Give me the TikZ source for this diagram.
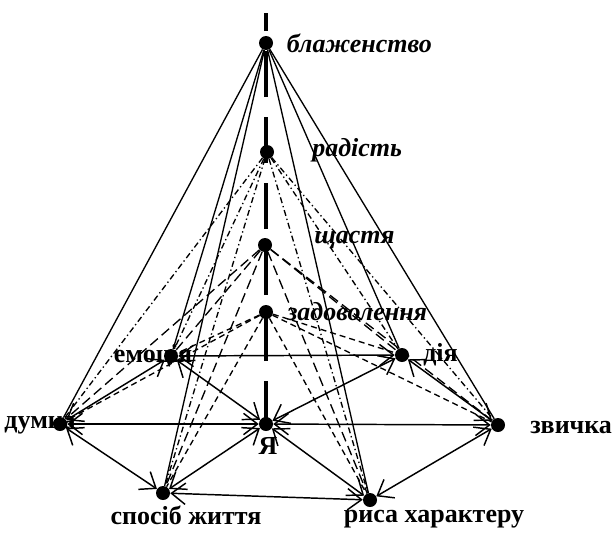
\documentclass[tikz,border=0pt]{standalone}
\usepackage{fontspec}
\setmainfont{Liberation Serif}
\usetikzlibrary{positioning,arrows.meta}

\begin{document}
\begin{tikzpicture}[
x=0.75pt, y=-0.75pt,
dotnode/.style={circle, fill=black, inner sep=0pt, minimum size=10.5pt},
itlabel/.style={inner sep=0pt, font=\fontsize{19.5}{21}\selectfont\bfseries\itshape},
uplabel/.style={inner sep=0pt, font=\fontsize{19.5}{21}\selectfont\bfseries},
axisline/.style={line width=3.4pt, dash pattern=on 34.5pt off 15pt, dash phase=2.25pt},
solidline/.style={line width=1pt},
dashdotline/.style={line width=1pt, dash pattern=on 4.5pt off 2.25pt on 1pt off 2.25pt},
longdashline/.style={line width=1pt, dash pattern=on 7.5pt off 3.75pt},
shortdashline/.style={line width=1pt, dash pattern=on 4.5pt off 3pt},
twoway/.style={line width=1.1pt, {Straight Barb[length=10.5pt, width=16pt]}-{Straight Barb[length=10.5pt, width=16pt]}},
]
\useasboundingbox (0,0) rectangle (614,532);

% levels on the axis
\node[dotnode] (Bliss)   at (266,43)  {};
\node[dotnode] (Joy)     at (267,152) {};
\node[dotnode] (Happy)   at (265,245) {};
\node[dotnode] (Content) at (266,312) {};
\node[dotnode] (Self)    at (266,424) {};
\coordinate (Top) at (266,13);

% ring around the self
\node[dotnode] (Emotion) at (171,356) {};
\node[dotnode] (Action)  at (402,355) {};
\node[dotnode] (Thought) at (60,424)  {};
\node[dotnode] (Habit)   at (498,425) {};
\node[dotnode] (Life)    at (163,493) {};
\node[dotnode] (Trait)   at (370,500) {};

\node[itlabel, anchor=west] (BlissText)   [right=10pt of Bliss]   {блаженство};
\node[itlabel, anchor=west] (JoyText)     at (312,150) {радість};
\node[itlabel, anchor=west] (HappyText)   at (314,240) {щастя};
\node[itlabel, anchor=west] (ContentText) at (287,312) {задоволення};
\node[uplabel] (SelfText)    at (268,446) {Я};
\node[uplabel] (EmotionText) at (153,356) {емоція};
\node[uplabel, anchor=west] (ActionText) at (423,355) {дія};
\node[uplabel] (ThoughtText) at (40,425)  {думка};
\node[uplabel, anchor=west] (HabitText) at (530,427) {звичка};
\node[uplabel] (LifeText)    at (186,515) {спосіб життя};
\node[uplabel] (TraitText)   at (434,519) {риса характеру};

\draw[axisline] (Self.center) -- (Top);

\draw[solidline] (Bliss) -- (Thought);
\draw[solidline] (Bliss) -- (Emotion);
\draw[solidline] (Bliss) -- (Life);
\draw[solidline] (Bliss) -- (Trait);
\draw[solidline] (Bliss) -- (Action);
\draw[solidline] (Bliss) -- (Habit);

\draw[dashdotline] (Joy) -- (Thought);
\draw[dashdotline] (Joy) -- (Emotion);
\draw[dashdotline] (Joy) -- (Life);
\draw[dashdotline] (Joy) -- (Trait);
\draw[dashdotline] (Joy) -- (Action);
\draw[dashdotline] (Joy) -- (Habit);

\draw[longdashline] (Happy) -- (Thought);
\draw[longdashline] (Happy) -- (Emotion);
\draw[longdashline] (Happy) -- (Life);
\draw[longdashline] (Happy) -- (Trait);
\draw[longdashline] (Happy) -- (Action);
\draw[longdashline] (Happy) -- (Habit);

\draw[shortdashline] (Content) -- (Thought);
\draw[shortdashline] (Content) -- (Emotion);
\draw[shortdashline] (Content) -- (Life);
\draw[shortdashline] (Content) -- (Trait);
\draw[shortdashline] (Content) -- (Action);
\draw[shortdashline] (Content) -- (Habit);

\draw[twoway] (Thought) -- (Emotion);
\draw[twoway] (Emotion) -- (Action);
\draw[twoway] (Action) -- (Habit);
\draw[twoway] (Habit) -- (Trait);
\draw[twoway] (Trait) -- (Life);
\draw[twoway] (Life) -- (Thought);

\draw[twoway] (Thought) -- (Self);
\draw[twoway] (Emotion) -- (Self);
\draw[twoway] (Action) -- (Self);
\draw[twoway] (Habit) -- (Self);
\draw[twoway] (Trait) -- (Self);
\draw[twoway] (Life) -- (Self);

\end{tikzpicture}
\end{document}
